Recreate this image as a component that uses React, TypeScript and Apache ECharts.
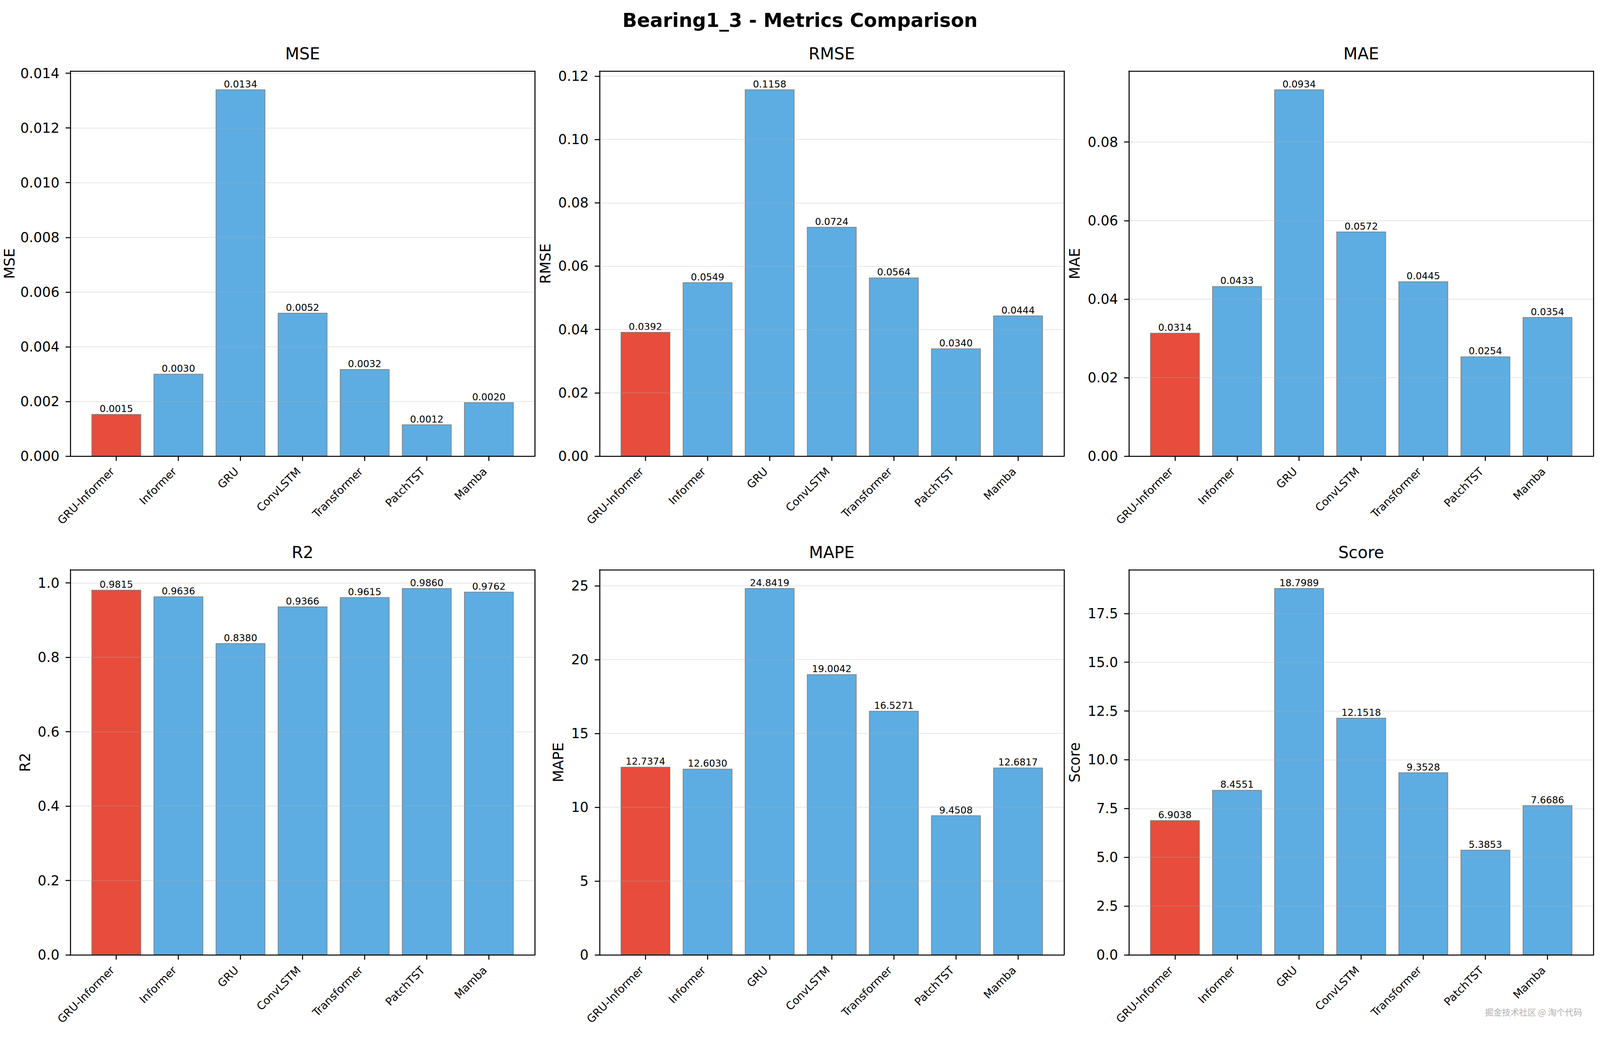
import React, { useEffect, useRef } from "react";
import * as echarts from "echarts";

const categories = ["GRU-Informer", "Informer", "GRU", "ConvLSTM", "Transformer", "PatchTST", "Mamba"];
const mseValues = [0.00154, 0.00301, 0.01341, 0.00524, 0.00318, 0.00116, 0.00197];
const rmseValues = [0.0392, 0.0549, 0.1158, 0.0724, 0.0564, 0.034, 0.0444];
const maeValues = [0.0314, 0.0433, 0.0934, 0.0572, 0.0445, 0.0254, 0.0354];
const r2Values = [0.9815, 0.9636, 0.838, 0.9366, 0.9615, 0.986, 0.9762];
const mapeValues = [12.7374, 12.603, 24.8419, 19.0042, 16.5271, 9.4508, 12.6817];
const scoreValues = [6.9038, 8.4551, 18.7989, 12.1518, 9.3528, 5.3853, 7.6686];

const mseTicks = [0, 0.002, 0.004, 0.006, 0.008, 0.01, 0.012, 0.014];
const rmseTicks = [0, 0.02, 0.04, 0.06, 0.08, 0.1, 0.12];
const maeTicks = [0, 0.02, 0.04, 0.06, 0.08];
const r2Ticks = [0, 0.2, 0.4, 0.6, 0.8, 1.0];
const mapeTicks = [0, 5, 10, 15, 20, 25];
const scoreTicks = [0, 2.5, 5, 7.5, 10, 12.5, 15, 17.5];

const panels = [
  { name: "MSE", values: mseValues, ticks: mseTicks, interval: 0.002, dec: 3 },
  { name: "RMSE", values: rmseValues, ticks: rmseTicks, interval: 0.02, dec: 2 },
  { name: "MAE", values: maeValues, ticks: maeTicks, interval: 0.02, dec: 2 },
  { name: "R2", values: r2Values, ticks: r2Ticks, interval: 0.2, dec: 1 },
  { name: "MAPE", values: mapeValues, ticks: mapeTicks, interval: 5, dec: 0 },
  { name: "Score", values: scoreValues, ticks: scoreTicks, interval: 2.5, dec: 1 },
];

const FONT = "DejaVu Sans";
const REF_W = 5367;
const REF_H = 2663;
const LEFTS = [236, 2011, 3787];
const TOPS = [182, 1459];
const GW = 1558;
const GH = 986;
const NAME_GAPS = [165, 137, 137, 111, 99, 137];
const XMIN = -0.74;
const XMAX = 6.74;
const RED = "#E74C3C";
const BLUE = "#5DADE2";

export default function App() {
  const ref = useRef<HTMLDivElement>(null);
  useEffect(() => {
    const el = ref.current;
    if (!el) return;
    const w = el.clientWidth || REF_W;
    const h = el.clientHeight || REF_H;
    const sx = w / REF_W;
    const sy = h / REF_H;
    const f = Math.min(1, Math.sqrt(sx * sy));
    const chart = echarts.init(el, null, { renderer: "svg", width: w, height: h });
    const grid: any[] = [];
    const xAxis: any[] = [];
    const yAxis: any[] = [];
    const series: any[] = [];
    const graphic: any[] = [];
    const idx = categories.map((_, i) => i);
    const gw = GW * sx;
    const gh = GH * sy;
    const barWidth = (0.8 * gw) / (XMAX - XMIN);
    const lw = Math.max(1, 3 * f);
    const spine = { show: true, onZero: false, lineStyle: { color: "#000", width: lw } };
    const nameFont = 42 * f;

    panels.forEach((p, k) => {
      const left = LEFTS[k % 3] * sx;
      const top = TOPS[Math.floor(k / 3)] * sy;
      grid.push({ left, top, width: gw, height: gh, containLabel: false });
      const ymax = Math.max(...p.values) * 1.05;
      const nameGap = Math.min(NAME_GAPS[k] * f, left - nameFont - 6);
      xAxis.push({
        gridIndex: k,
        type: "value",
        min: XMIN,
        max: XMAX,
        z: 3,
        axisLine: spine,
        axisTick: { show: true, length: 14 * f, customValues: idx, lineStyle: { color: "#000", width: lw } },
        axisLabel: {
          customValues: idx,
          rotate: 45,
          fontSize: 32 * f,
          fontFamily: FONT,
          color: "#000",
          margin: 28 * f,
          padding: [0, 16 * f, 0, 0],
          formatter: (v: number) => categories[Math.round(v)] ?? "",
        },
        splitLine: { show: false },
      });
      xAxis.push({
        gridIndex: k,
        type: "value",
        min: XMIN,
        max: XMAX,
        position: "top",
        z: 4,
        axisLine: spine,
        axisTick: { show: false },
        axisLabel: { show: false },
        splitLine: { show: false },
      });
      yAxis.push({
        gridIndex: k,
        type: "value",
        min: 0,
        max: ymax,
        interval: p.interval,
        z: 3,
        name: p.name,
        nameLocation: "middle",
        nameGap,
        nameTextStyle: { fontSize: nameFont, fontFamily: FONT, color: "#000" },
        axisLine: spine,
        axisTick: { show: true, length: 14 * f, customValues: p.ticks, lineStyle: { color: "#000", width: lw } },
        axisLabel: {
          customValues: p.ticks,
          fontSize: 40 * f,
          fontFamily: FONT,
          color: "#000",
          margin: 32 * f,
          formatter: (v: number) => v.toFixed(p.dec),
        },
        splitLine: { show: true, lineStyle: { color: "rgba(176,176,176,0.3)", width: 2.5 * f } },
      });
      yAxis.push({
        gridIndex: k,
        type: "value",
        min: 0,
        max: ymax,
        position: "right",
        z: 4,
        axisLine: spine,
        axisTick: { show: false },
        axisLabel: { show: false },
        splitLine: { show: false },
      });
      series.push({
        type: "bar",
        xAxisIndex: 2 * k,
        yAxisIndex: 2 * k,
        barWidth,
        z: 2,
        data: p.values.map((v, i) => ({
          value: [i, v],
          itemStyle: { color: i === 0 ? RED : BLUE, borderColor: "#808080", borderWidth: 2 * f },
        })),
        label: {
          show: true,
          position: "top",
          distance: 2 * f,
          fontSize: 28 * f,
          fontFamily: FONT,
          color: "#000",
          formatter: (q: any) => Number(q.value[1]).toFixed(4),
        },
      });
      graphic.push({
        type: "text",
        x: left + gw / 2,
        y: top - 44.5 * sy,
        style: {
          text: p.name,
          fontSize: 48 * f,
          fontFamily: FONT,
          fill: "#000",
          align: "center",
          verticalAlign: "middle",
          textAlign: "center",
          textVerticalAlign: "middle",
        },
      });
    });

    graphic.push({
      type: "text",
      x: w / 2,
      y: 52 * sy,
      style: {
        text: "Bearing1_3 - Metrics Comparison",
        fontSize: 56 * f,
        fontWeight: "bold",
        fontFamily: FONT,
        fill: "#000",
        align: "center",
        verticalAlign: "middle",
        textAlign: "center",
        textVerticalAlign: "middle",
      },
    });
    graphic.push({
      type: "text",
      x: 5307 * sx,
      y: 2590 * sy,
      style: {
        text: "掘金技术社区 @ 淘个代码",
        fontSize: 25 * f,
        fontFamily: "Noto Sans CJK SC",
        fill: "#b0b0b0",
        align: "right",
        verticalAlign: "middle",
        textAlign: "right",
        textVerticalAlign: "middle",
        textShadowColor: "rgba(0,0,0,0.5)",
        textShadowOffsetX: 1,
        textShadowOffsetY: 1,
      },
    });

    chart.setOption({
      animation: false,
      backgroundColor: "#fff",
      textStyle: { fontFamily: FONT },
      grid,
      xAxis,
      yAxis,
      series,
      graphic,
    });
    return () => chart.dispose();
  }, []);
  return (
    <div
      ref={ref}
      style={{ position: "fixed", left: 0, top: 0, width: "100vw", height: "100vh" }}
    />
  );
}
